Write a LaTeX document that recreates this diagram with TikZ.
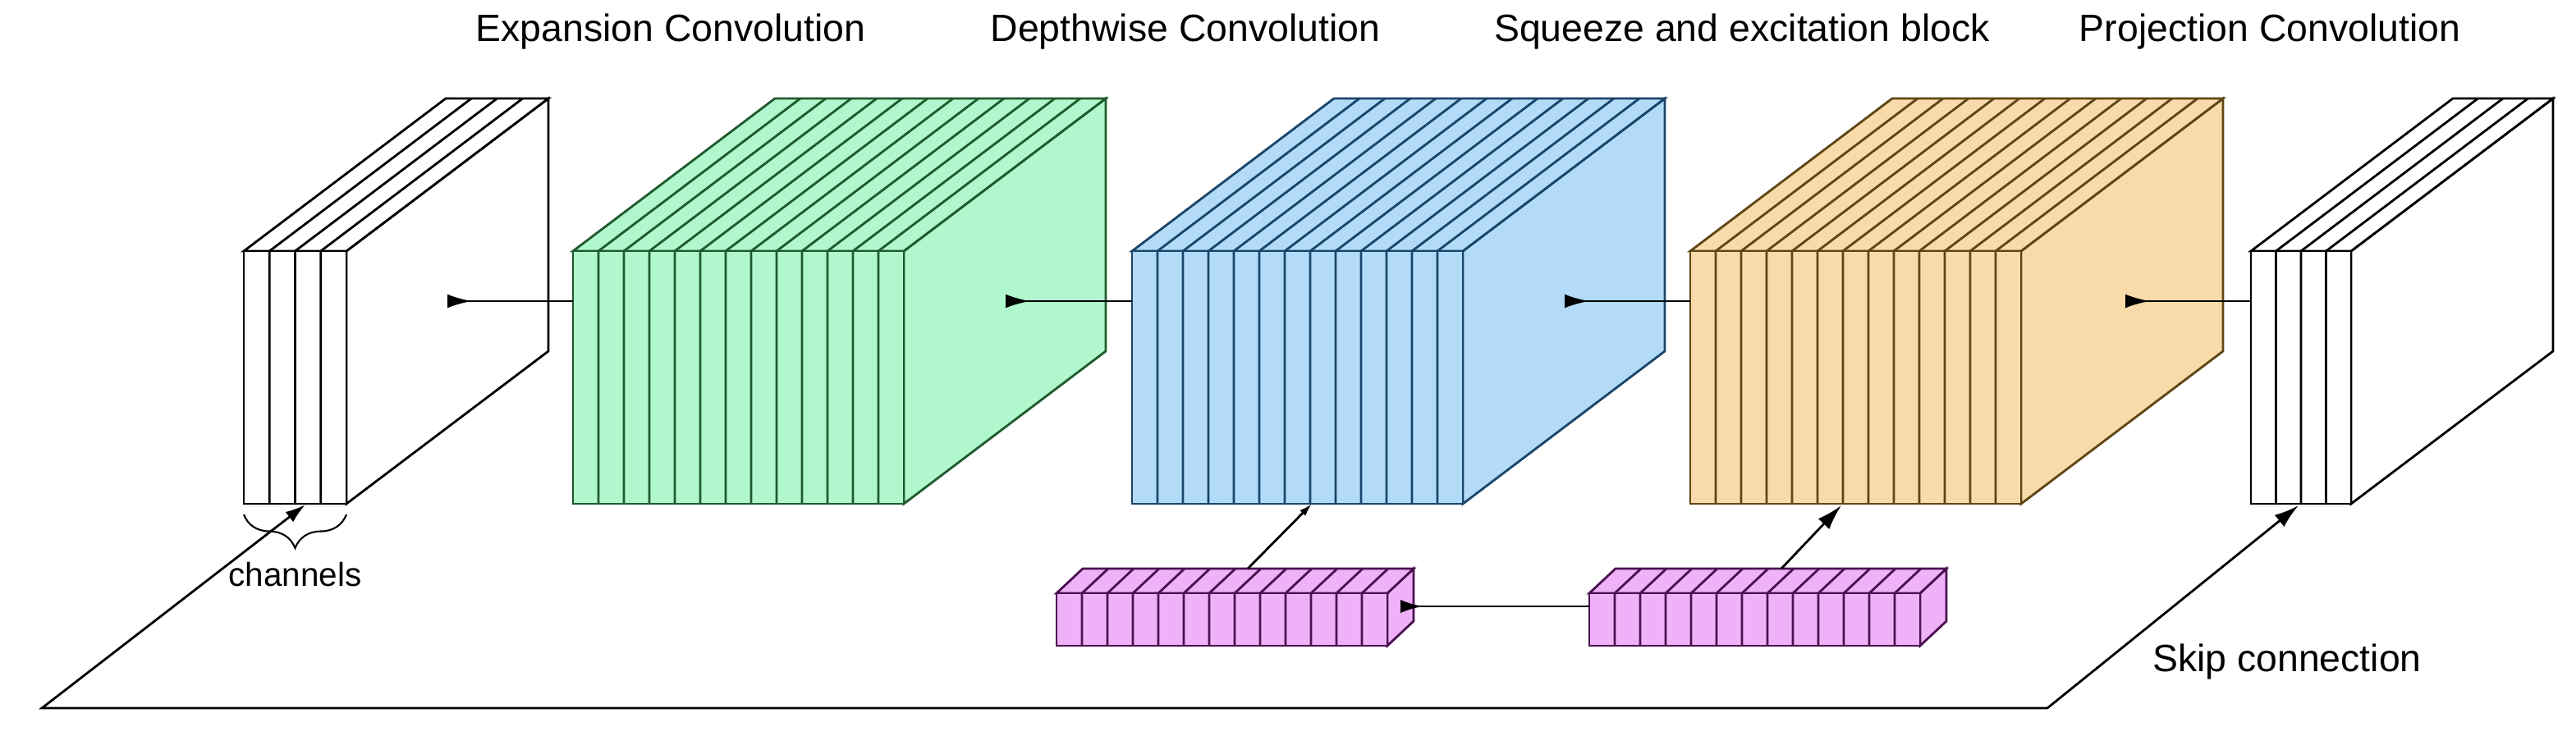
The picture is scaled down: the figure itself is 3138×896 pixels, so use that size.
\documentclass[tikz,border=0pt]{standalone}
\usepackage{fontspec}
\setmainfont{Liberation Sans}
\usepackage{tikz}
\usetikzlibrary{calc}
\usetikzlibrary{arrows.meta}
\usetikzlibrary{decorations.pathreplacing}

\definecolor{expfill}{HTML}{B0F7CD}
\definecolor{expline}{HTML}{1E5A2D}
\definecolor{dwfill}{HTML}{B3DBF8}
\definecolor{dwline}{HTML}{1A456A}
\definecolor{projfill}{HTML}{F8DBA8}
\definecolor{projline}{HTML}{5E4514}
\definecolor{sefill}{HTML}{EFB2F8}
\definecolor{seline}{HTML}{4A1050}

\tikzset{
	plain/.style={draw=black, fill=white, line width=0.8pt},
	expand/.style={draw=expline, fill=expfill, line width=0.8pt},
	depth/.style={draw=dwline, fill=dwfill, line width=0.8pt},
	project/.style={draw=projline, fill=projfill, line width=0.8pt},
	squeeze/.style={draw=seline, fill=sefill, line width=0.8pt},
	flow/.style={{Latex[reversed, length=8.5pt, width=4.8pt]}-, line width=0.8pt},
	lift/.style={-{Latex[length=#1, width=0.6*#1]}, line width=0.8pt},
	skip/.style={{Latex[length=7pt, width=4.4pt]}-{Latex[length=8.5pt, width=5.2pt]}, line width=0.8pt},
	title/.style={font=\fontsize{13.2}{15}\selectfont, anchor=base},
}

% slab: name, x, y, slices, slice width, height, dx, dy, style
\newcommand{\slab}[9]{%
	\pgfmathsetmacro{\slabr}{#2+#4*#5}
	\pgfmathtruncatemacro{\slabn}{#4-1}
	\filldraw[#9] (\slabr,#3) -- ++(#7,#8) -- ++(0,#6) -- (\slabr,#3+#6) -- cycle;
	\filldraw[#9] (#2,#3) -- ++(#7,#8) -- (\slabr+#7,#3+#8) -- (\slabr,#3) -- cycle;
	\filldraw[#9] (#2,#3) rectangle (\slabr,#3+#6);
	\foreach \k in {1,...,\slabn}{
		\draw[#9, fill=none] (#2+\k*#5,#3+#6) -- (#2+\k*#5,#3) -- ++(#7,#8);
	}
	\coordinate (#1-nw) at (#2,#3);
	\coordinate (#1-sw) at (#2,#3+#6);
	\coordinate (#1-ne) at (\slabr,#3);
	\coordinate (#1-se) at (\slabr,#3+#6);
}

\begin{document}
\begin{tikzpicture}[x=0.01cm, y=-0.01cm]
	\useasboundingbox (0,0) rectangle (3138,896);

	% feature maps
	\slab{input}{297}{306}{4}{31.25}{308}{246}{-186}{plain}
	\slab{expand}{698}{306}{13}{31}{308}{246}{-186}{expand}
	\slab{dw}{1379}{306}{13}{31}{308}{246}{-186}{depth}
	\slab{se}{2059}{306}{13}{31}{308}{246}{-186}{project}
	\slab{output}{2742}{306}{4}{30.5}{308}{246}{-186}{plain}

	% squeeze and excitation vectors
	\slab{pool}{1287}{723}{13}{31}{64}{32}{-30}{squeeze}
	\slab{scale}{1936}{723}{13}{31}{64}{32}{-30}{squeeze}

	% main path
	\coordinate (t1) at (545,367);
	\coordinate (t2) at (1225,367);
	\coordinate (t3) at (1906,367);
	\coordinate (t4) at (2589,367);
	\draw[flow] (t1) -- (t1 -| expand-nw);
	\draw[flow] (t2) -- (t2 -| dw-nw);
	\draw[flow] (t3) -- (t3 -| se-nw);
	\draw[flow] (t4) -- (t4 -| output-nw);

	% excitation
	\coordinate (t5) at (1706,739);
	\draw[flow, {Latex[reversed, length=7.7pt, width=4.6pt]}-] (t5) -- (t5 -| scale-nw);
	\coordinate (p1) at (1520,693);
	\coordinate (p2) at (2170,693);
	\draw[lift=4.5pt] (p1) -- ($(dw-sw)+(219,0)$);
	\draw[lift=8.8pt] (p2) -- ($(se-sw)+(184,2)$);

	% skip connection
	\coordinate (s1) at ($(input-sw)+(75,1)$);
	\coordinate (s2) at ($(output-sw)+(58,2)$);
	\draw[skip] (s1) -- (51,863) -- (2494,863) -- (s2);

	\draw[decorate, decoration={brace, mirror, amplitude=0.41cm}, line width=0.6pt] ($(input-sw)+(0,13)$) -- ($(input-se)+(0,13)$) node[pos=0.5, below=0.45cm, font=\fontsize{11.5}{13}\selectfont] (chan) {channels};

	% labels
	\node[title] (t-exp) at (817,50) {Expansion Convolution};
	\node[title] (t-dw) at (1444,50) {Depthwise Convolution};
	\node[title] (t-se) at (2122,50) {Squeeze and excitation block};
	\node[title] (t-proj) at (2765,50) {Projection Convolution};
	\node[title] (t-skip) at (2786,818) {Skip connection};
\end{tikzpicture}
\end{document}
